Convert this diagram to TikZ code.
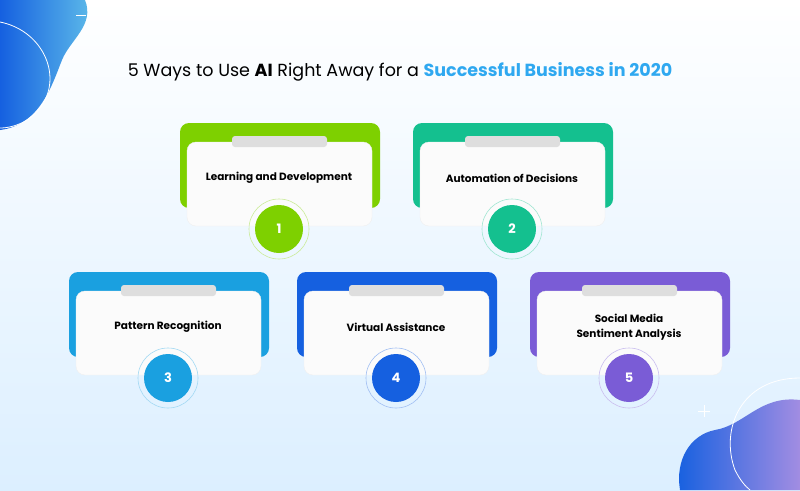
\documentclass[tikz,border=0pt]{standalone}
\usepackage{fontspec}
\setmainfont{Poppins}
\begin{document}
\begin{tikzpicture}[x=1pt,y=-1pt,
 back/.style={fill=#1,rounded corners=9pt},
 card/.style={fill=white!97!gray,rounded corners=9pt,draw=black!6},
 tab/.style={fill=black!13,rounded corners=3pt},
 num/.style={circle,fill=#1,minimum size=48pt,text=white,font=\bfseries\fontsize{13}{15}\selectfont},
 ring/.style={draw=#1!40,line width=0.6pt},
 lbl/.style={font=\bfseries\fontsize{10.5}{15}\selectfont,align=center,text=black}]
\definecolor{cA}{HTML}{7ED000}\definecolor{cB}{HTML}{14C08F}
\definecolor{cC}{HTML}{1AA0E0}\definecolor{cD}{HTML}{1560E0}
\definecolor{cE}{HTML}{7A5CD6}\definecolor{tb}{HTML}{2FA8F0}
\definecolor{bgb}{HTML}{DCEFFF}
\useasboundingbox (0,0) rectangle (800,490);
\shade[top color=white,bottom color=bgb] (0,0) rectangle (800,490);
% blobs
\shade[left color=cD,right color=cC!70] (0,0) -- (85,0) .. controls (95,25) and (70,40) .. (62,60) .. controls (52,85) and (40,125) .. (0,130) -- cycle;
\draw[white,line width=0.8pt] (0,22) .. controls (40,30) and (60,70) .. (45,100) .. controls (35,120) and (15,128) .. (0,128);
\draw[white,line width=0.8pt] (76,15)--(86,15);
\shade[left color=cD,right color=cE!70] (800,400) .. controls (760,395) and (745,425) .. (715,430) .. controls (690,435) and (675,460) .. (680,490) -- (800,490) -- cycle;
\draw[white,line width=0.8pt] (800,378) .. controls (740,378) and (720,430) .. (735,470) .. controls (740,480) and (745,486) .. (750,490);
\draw[white,line width=0.8pt] (698,411)--(710,411) (704,405)--(704,417);
\node (title) at (400,72) {\fontsize{17.5}{20}\selectfont 5 Ways to Use \textbf{AI} Right Away for a \textcolor{tb}{\textbf{Successful Business in 2020}}};
% cards
\foreach \x/\y/\c/\n/\t [count=\i] in {180/123/cA/1/Learning and Development,413/123/cB/2/Automation of Decisions,69/272/cC/3/Pattern Recognition,297/272/cD/4/Virtual Assistance,530/272/cE/5/{Social Media\\Sentiment Analysis}}{
 \fill[back=\c] (\x,\y) rectangle ++(200,85);
 \fill[card] (\x+7,\y+19) rectangle ++(185,84);
 \fill[tab] (\x+52,\y+13) rectangle ++(95,11);
 \node[lbl] (t\i) at (\x+99,\y+55) {\t};
 \draw[ring=\c] (\x+99,\y+106) circle (30);
 \node[num=\c] (n\i) at (\x+99,\y+106) {\n};
}
\end{tikzpicture}
\end{document}
